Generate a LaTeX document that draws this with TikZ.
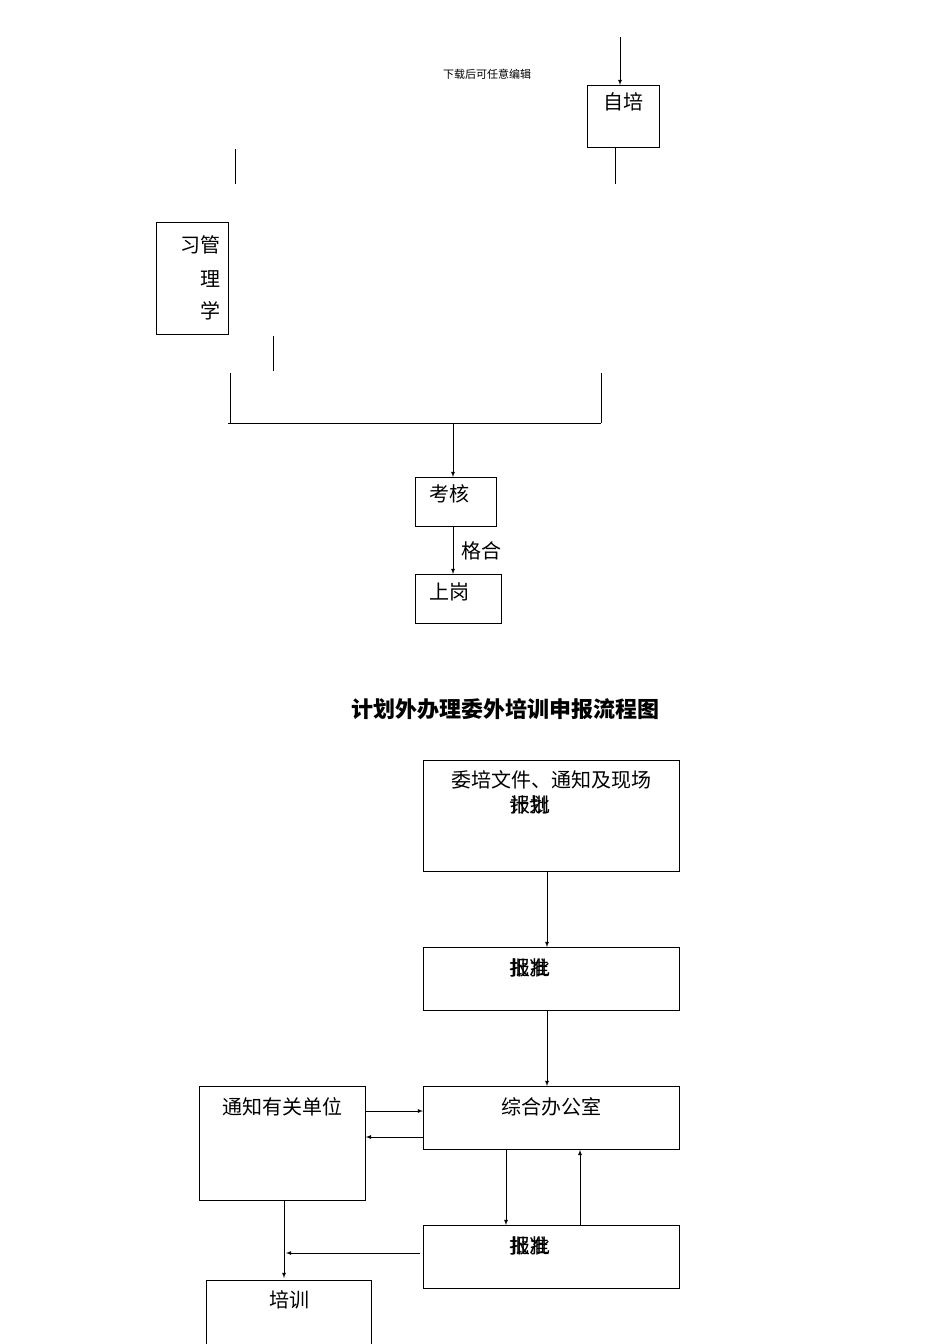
\documentclass[tikz,border=0pt]{standalone}
\usepackage{fontspec}
\setmainfont{Noto Sans CJK SC}
\usetikzlibrary{calc}
\begin{document}
\begin{tikzpicture}[x=1pt,y=-1pt,
  box/.style={draw,line width=0.8pt,anchor=north west,inner sep=0pt},
  txt/.style={inner sep=0pt,font=\fontsize{20}{22}\selectfont},
  arr/.style={-latex,line width=0.8pt},
  ln/.style={line width=0.8pt}]
\useasboundingbox (0,0) rectangle (950,1344);
% top part
\coordinate (t0) at (620,37);
\node[box,minimum width=72,minimum height=62] (zp) at (587,85) {};
\node[txt] (zpt) at (623,102) {自培};
\draw[arr] (t0) -- (zp.north -| t0);
\coordinate (z1) at (615,147); \coordinate (z2) at (615,184);
\draw[ln] (z1) -- (z2);
\node[inner sep=0pt,font=\fontsize{11}{12}\selectfont] (dl) at (487,74) {下载后可任意编辑};
\coordinate (a1) at (235,149); \coordinate (a2) at (235,184);
\draw[ln] (a1) -- (a2);
\node[box,minimum width=72,minimum height=112] (gl) at (156,222) {};
\node[txt] (g1) at (200,245) {习管};
\node[txt] (g2) at (210,279) {理};
\node[txt] (g3) at (210,311) {学};
\coordinate (b1) at (273,336); \coordinate (b2) at (273,371);
\draw[ln] (b1) -- (b2);
\coordinate (c1) at (230,373); \coordinate (c2) at (230,423);
\coordinate (d1) at (601,373); \coordinate (d2) at (601,423);
\coordinate (hl) at (228,423); \coordinate (hm) at (453,423);
\draw[ln] (c1) -- (c2) (d1) -- (d2) (hl) -- (d2);
\node[box,minimum width=81,minimum height=49] (kh) at (415,477) {};
\node[txt] at (449,494) {考核};
\draw[arr] (hm) -- (hm |- kh.north);
\node[box,minimum width=86,minimum height=49] (sg) at (415,574) {};
\node[txt] at (449,592) {上岗};
\draw[arr] (hm |- kh.south) -- node[txt,right=8pt] {格合} (hm |- sg.north);
% title
\node[inner sep=0pt,font=\fontsize{22}{24}\selectfont\bfseries] (title) at (505,709) {计划外办理委外培训申报流程图};
% lower flow
\node[box,minimum width=256,minimum height=111] (b1n) at (423,760) {};
\node[txt] at (551,780) {委培文件、通知及现场};
\node[txt] at (529,805) {计划};
\node[txt] at (530,805) {报批};
\node[box,minimum width=256,minimum height=63] (b2n) at (423,947) {};
\node[txt] at (529,968) {批准};
\node[txt] at (530,968) {报批};
\node[box,minimum width=256,minimum height=63] (b3n) at (423,1086) {};
\node[txt] at (551,1107) {综合办公室};
\node[box,minimum width=256,minimum height=63] (b4n) at (423,1225) {};
\node[txt] at (529,1246) {批准};
\node[txt] at (530,1246) {报批};
\node[box,minimum width=166,minimum height=114] (tz) at (199,1086) {};
\node[txt] at (282,1107) {通知有关单位};
\node[box,minimum width=165,minimum height=64] (px) at (206,1280) {};
\node[txt] at (289,1300) {培训};
\coordinate (v1) at (547,0); \coordinate (v2) at (506,0); \coordinate (v3) at (580,0);
\coordinate (v4) at (284,0);
\draw[arr] (v1 |- b1n.south) -- (v1 |- b2n.north);
\draw[arr] (v1 |- b2n.south) -- (v1 |- b3n.north);
\draw[arr] (tz.east |- 0,1111) -- (b3n.west |- 0,1111);
\draw[arr] (b3n.west |- 0,1137) -- (tz.east |- 0,1137);
\draw[arr] (v2 |- b3n.south) -- (v2 |- b4n.north);
\draw[arr] (v3 |- b4n.north) -- (v3 |- b3n.south);
\draw[arr] (420,1253) -- (286,1253);
\draw[arr] (v4 |- tz.south) -- (284,1278);
\end{tikzpicture}
\end{document}
